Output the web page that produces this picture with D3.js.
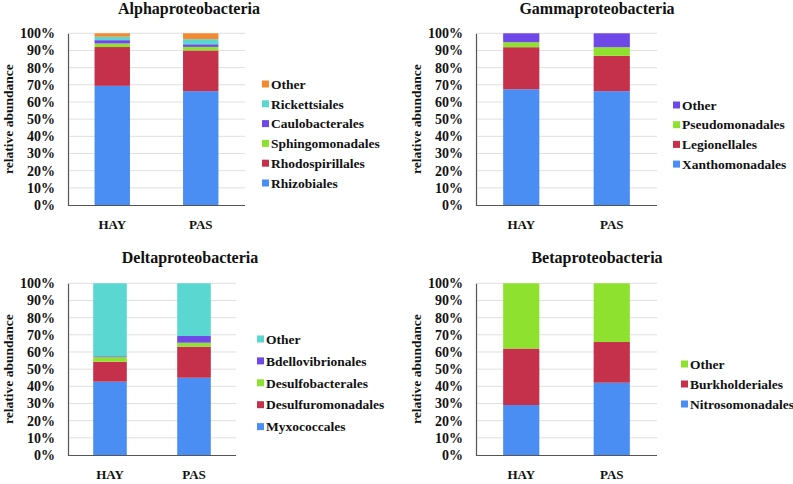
<!DOCTYPE html>
<html><head><meta charset="utf-8">
<script src="https://cdn.jsdelivr.net/npm/d3@7"></script>
<style>body{margin:0;background:#fff}svg{display:block}text{font-family:"Liberation Serif","Times New Roman",serif;font-weight:bold;fill:#111}</style>
</head><body><svg id="c" width="793" height="484"></svg>
<script>
const categories = ["HAY", "PAS"];
const tickValues = [0,10,20,30,40,50,60,70,80,90,100];

const alphaTitle = "Alphaproteobacteria";
const alphaSeries = ["Rhizobiales","Rhodospirillales","Sphingomonadales","Caulobacterales","Rickettsiales","Other"];
const alphaValues = [[69.4,66.3],[22.6,23.7],[2.1,2.1],[1.9,1.5],[2.0,3.0],[2.0,3.4]];

const gammaTitle = "Gammaproteobacteria";
const gammaSeries = ["Xanthomonadales","Legionellales","Pseudomonadales","Other"];
const gammaValues = [[67.4,66.3],[24.5,20.6],[2.9,5.0],[5.2,8.1]];

const deltaTitle = "Deltaproteobacteria";
const deltaSeries = ["Myxococcales","Desulfuromonadales","Desulfobacterales","Bdellovibrionales","Other"];
const deltaValues = [[42.7,45.0],[11.6,18.1],[2.7,2.3],[0.5,3.9],[42.5,30.7]];

const betaTitle = "Betaproteobacteria";
const betaSeries = ["Nitrosomonadales","Burkholderiales","Other"];
const betaValues = [[29.1,42.1],[32.9,23.7],[38.0,34.2]];

const C = {blue:"#4a8ef4", red:"#c5304b", green:"#8fe12f", purple:"#7048e8", cyan:"#5bd7d1", orange:"#f5892f"};
const alphaColors = [C.blue,C.red,C.green,C.purple,C.cyan,C.orange];
const gammaColors = [C.blue,C.red,C.green,C.purple];
const deltaColors = [C.blue,C.red,C.green,C.purple,C.cyan];
const betaColors = [C.blue,C.red,C.green];

const panels = [
  {title:alphaTitle, series:alphaSeries, values:alphaValues, colors:alphaColors,
   x0:68, x1:245, y0:33.3, y1:205, titleX:189, titleY:13.5, ylabX:8, legX:262, legY:84, legStep:19.8},
  {title:gammaTitle, series:gammaSeries, values:gammaValues, colors:gammaColors,
   x0:476, x1:657, y0:33.3, y1:205, titleX:597, titleY:13.5, ylabX:416, legX:673, legY:105, legStep:19.7},
  {title:deltaTitle, series:deltaSeries, values:deltaValues, colors:deltaColors,
   x0:68, x1:236, y0:283.3, y1:455, titleX:190, titleY:263, ylabX:8, legX:257, legY:339, legStep:21.9},
  {title:betaTitle, series:betaSeries, values:betaValues, colors:betaColors,
   x0:476, x1:657, y0:283.3, y1:455, titleX:597, titleY:263, ylabX:416, legX:681, legY:364, legStep:20}
];

const svg = d3.select("#c");

panels.forEach(p => {
  const g = svg.append("g");
  const x = d3.scaleBand().domain(categories).range([p.x0, p.x1]).paddingInner(0.6).paddingOuter(0.3);
  const y = d3.scaleLinear().domain([0,100]).range([p.y1, p.y0]);

  // gridlines
  g.append("g").selectAll("line").data(tickValues.filter(t=>t>0)).join("line")
    .attr("x1", p.x0).attr("x2", p.x1).attr("y1", d=>y(d)).attr("y2", d=>y(d))
    .attr("stroke", "#e0e0e0").attr("stroke-width", 1);

  // stacked bars
  const rows = categories.map((c,i) => {
    const o = {cat:c};
    p.series.forEach((s,k) => o[s] = p.values[k][i]);
    return o;
  });
  const stack = d3.stack().keys(p.series)(rows);
  stack.forEach((layer,k) => {
    g.append("g").attr("fill", p.colors[k]).selectAll("rect").data(layer).join("rect")
      .attr("x", d => x(d.data.cat)).attr("width", x.bandwidth())
      .attr("y", d => y(d[1])).attr("height", d => Math.max(0, y(d[0]) - y(d[1])));
  });

  // y axis
  const ya = d3.axisLeft(y).tickValues(tickValues).tickFormat(d => d + "%").tickSize(0).tickPadding(13);
  const yg = g.append("g").attr("transform", `translate(${p.x0},0)`).call(ya);
  yg.select(".domain").attr("stroke", "#555").attr("stroke-width", 1.2);
  yg.selectAll("text").style("font-size", "14px").style("font-family", "'Liberation Serif',serif").style("font-weight","bold").attr("fill", "#111");

  // x axis
  const xa = d3.axisBottom(x).tickSize(0).tickPadding(15);
  const xg = g.append("g").attr("transform", `translate(0,${p.y1})`).call(xa);
  xg.select(".domain").attr("stroke", "#555").attr("stroke-width", 1.2).attr("d", `M${p.x0},0.5H${p.x1}`);
  xg.selectAll("text").style("font-size", "13px").style("font-family", "'Liberation Serif',serif").style("font-weight","bold").attr("fill", "#111");

  // title
  g.append("text").attr("x", p.titleX).attr("y", p.titleY).attr("text-anchor", "middle")
    .style("font-size", "16px").text(p.title);

  // y label
  const cy = (p.y0 + p.y1) / 2;
  g.append("text").attr("transform", `translate(${p.ylabX},${cy}) rotate(-90)`)
    .attr("text-anchor", "middle").attr("dy", "0.35em").style("font-size", "13.5px").text("relative abundance");

  // legend (reverse order, top = last series)
  const leg = p.series.map((s,k) => ({s, c:p.colors[k]})).reverse();
  const lg = g.append("g").selectAll("g").data(leg).join("g")
    .attr("transform", (d,i) => `translate(${p.legX},${p.legY + i*p.legStep})`);
  lg.append("rect").attr("x", 0).attr("y", -3.5).attr("width", 7).attr("height", 7).attr("fill", d => d.c);
  lg.append("text").attr("x", 9).attr("dy", "0.35em").style("font-size", "13.5px").text(d => d.s);
});
</script></body></html>
